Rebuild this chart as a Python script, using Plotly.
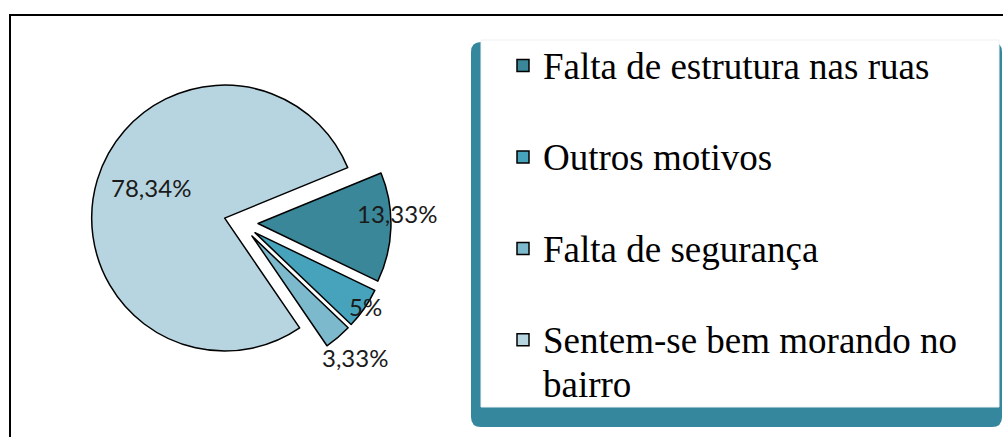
import math
import plotly.graph_objects as go

# ---------------- data ----------------
categories = ["Falta de estrutura nas ruas", "Outros motivos",
              "Falta de segurança", "Sentem-se bem morando no bairro"]
legend_lines = [["Falta de estrutura nas ruas", " "], ["Outros motivos", " "],
                ["Falta de segurança", " "], ["Sentem-se bem morando no", "bairro"]]
values = [13.33, 5.0, 3.33, 78.34]
value_labels = ["13,33%", "5%", "3,33%", "78,34%"]

# ---------------- style ----------------
colors = ["#3A8799", "#47A3BC", "#7DB9CD", "#B7D5E0"]
W, H = 1003, 437
pull = 0.128
dom_x = [0.0907, 0.3898]
dom_y = [0.1465, 0.8330]
rotation = 67.7
label_radial = [1.05, 1.0, 1.2, 0.6]
label_angle_off = [-5.8, -0.8, 0.0, 5.9]

legend_text = ["<br>".join(f"<span style='font-size:37px'>{ln}</span>" for ln in lines)
               for lines in legend_lines]

fig = go.Figure()
fig.add_trace(go.Pie(
    labels=legend_text,
    values=values,
    sort=False,
    direction="clockwise",
    rotation=rotation,
    pull=[pull] * len(values),
    marker=dict(colors=colors, line=dict(color="black", width=1.5)),
    textinfo="none",
    hoverinfo="skip",
    domain=dict(x=dom_x, y=dom_y),
    showlegend=True,
))

# label positions derived from pie geometry
bw = W * (dom_x[1] - dom_x[0])
bh = H * (dom_y[1] - dom_y[0])
r = min(bw, bh) / (2 + 2 * pull)
cx = W * (dom_x[0] + dom_x[1]) / 2
cy = H * (1 - dom_y[0]) - bh / 2
total = sum(values)
cum = 0.0
annotations = []
for v, txt, f, off in zip(values, value_labels, label_radial, label_angle_off):
    mid = rotation + 360.0 * (cum + v / 2) / total
    cum += v
    ax = cx + pull * r * math.sin(math.radians(mid))
    ay = cy - pull * r * math.cos(math.radians(mid))
    lx = ax + f * r * math.sin(math.radians(mid + off))
    ly = ay - f * r * math.cos(math.radians(mid + off))
    annotations.append(dict(
        x=lx / W, y=1 - ly / H, xref="paper", yref="paper",
        text=txt, showarrow=False, xanchor="center", yanchor="middle",
        font=dict(family="Lato", size=24, color="#1a1a1a"),
    ))


def px(x):
    return x / W


def py(y):
    return 1 - y / H


# legend box (teal shadow frame with rounded corners)
x0, x1, y0, y1, rr = 471, 1002, 42, 427, 10
rx, ry = rr / W, rr / H
teal_path = (
    f"M {px(x0)+rx},{py(y0)} L {px(x1)-rx},{py(y0)} "
    f"Q {px(x1)},{py(y0)} {px(x1)},{py(y0)-ry} "
    f"L {px(x1)},{py(y1)+ry} Q {px(x1)},{py(y1)} {px(x1)-rx},{py(y1)} "
    f"L {px(x0)+rx},{py(y1)} Q {px(x0)},{py(y1)} {px(x0)},{py(y1)+ry} "
    f"L {px(x0)},{py(y0)-ry} Q {px(x0)},{py(y0)} {px(x0)+rx},{py(y0)} Z"
)
shapes = [
    dict(type="rect", xref="paper", yref="paper",
         x0=px(10), x1=px(1020), y0=py(460), y1=py(15),
         line=dict(color="black", width=2), fillcolor="rgba(0,0,0,0)", layer="below"),
    dict(type="path", xref="paper", yref="paper", path=teal_path,
         fillcolor="#34879C", line=dict(width=0), layer="below"),
    dict(type="rect", xref="paper", yref="paper",
         x0=px(481), x1=px(999), y0=py(407), y1=py(40),
         fillcolor="white", line=dict(color="#eef2f3", width=1), layer="below"),
]

fig.update_layout(
    width=W, height=H,
    margin=dict(l=0, r=0, t=0, b=0),
    paper_bgcolor="white",
    plot_bgcolor="white",
    shapes=shapes,
    annotations=annotations,
    legend=dict(
        x=503 / W, y=py(37), xanchor="left", yanchor="top",
        font=dict(family="Liberation Serif", size=34, color="black"),
        bgcolor="rgba(0,0,0,0)", borderwidth=0,
        valign="top", traceorder="normal",
    ),
)

fig.write_html("out.html", config={"displayModeBar": False},
               post_script="document.body.style.margin='0';")
